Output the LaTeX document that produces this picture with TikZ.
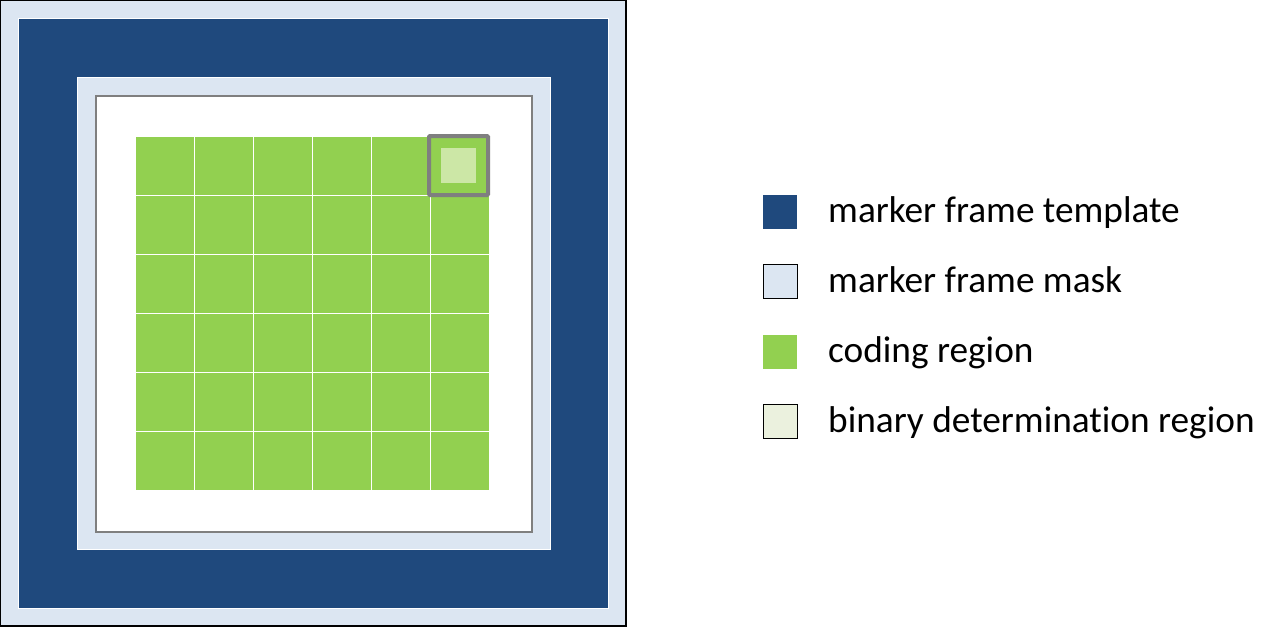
\documentclass[tikz,border=0pt]{standalone}
\usepackage{fontspec}
\setmainfont{Carlito}[Ligatures=NoCommon]
\definecolor{maskblue}{RGB}{220,230,242}
\definecolor{frameblue}{RGB}{31,73,125}
\definecolor{codegreen}{RGB}{146,208,80}
\definecolor{palegreen}{RGB}{204,231,166}
\definecolor{bingreen}{RGB}{235,241,222}
\definecolor{edgegray}{RGB}{127,127,127}
\tikzset{
  legbox/.style={minimum width=34pt,minimum height=34pt,inner sep=0pt,outer sep=0pt},
  legtext/.style={anchor=base west,inner sep=0pt,font=\fontsize{37.3}{44}\selectfont},
  cell/.style={fill=codegreen,draw=white,line width=1pt}
}
\begin{document}
\begin{tikzpicture}[x=1pt,y=-1pt]
\useasboundingbox (0,0) rectangle (1280,627);
% frame
\draw[fill=maskblue,draw=black,line width=1.2pt] (0.6,0.6) rectangle (626,626);
\draw[fill=frameblue,draw=white,line width=1pt] (18.5,18.5) rectangle (608,608);
\draw[fill=maskblue,draw=white,line width=1pt] (77,77) rectangle (550,549.5);
\draw[fill=white,draw=edgegray,line width=2pt] (95.5,95.5) rectangle (531.5,531.5);
% coding grid
\foreach \i in {0,...,5}{
  \foreach \j in {0,...,5}{
    \draw[cell] ({135+\i*59},{136+\j*59}) rectangle ++(59,59);
  }
}
\draw[draw=edgegray,line width=4pt,rounded corners=1pt] (429,136) rectangle (488,195);
\fill[palegreen] (441,148) rectangle (476,183);
% legend
\node[legbox,fill=frameblue] (l1) at (780,211.5) {};
\node[legbox,fill=maskblue,draw=black,line width=1pt] (l2) at (780,281.5) {};
\node[legbox,fill=codegreen] (l3) at (780,351.5) {};
\node[legbox,fill=bingreen,draw=black,line width=1pt] (l4) at (780,421.5) {};
\node[legtext] (t1) at (828,222.5) {marker frame template};
\node[legtext] (t2) at (828,292.5) {marker frame mask};
\node[legtext] (t3) at (828,362.5) {coding region};
\node[legtext] (t4) at (828,432.5) {binary determination region};
\end{tikzpicture}
\end{document}
